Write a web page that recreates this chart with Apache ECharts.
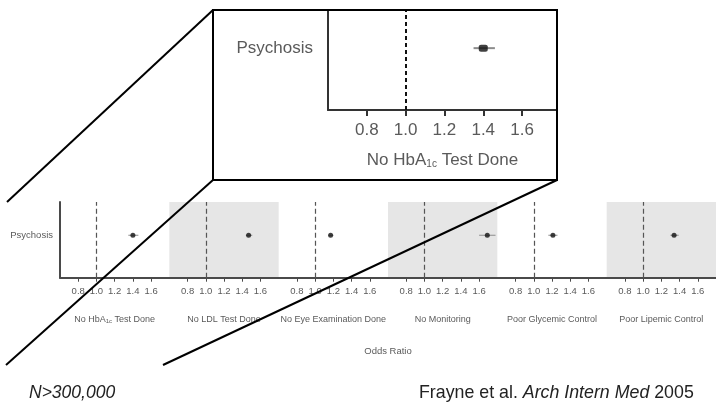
<!DOCTYPE html>
<html>
<head>
<meta charset="UTF-8">
<title>Psychosis odds ratios</title>
<script src="https://cdn.jsdelivr.net/npm/echarts@6/dist/echarts.min.js"></script>
<style type="text/css">
  * {margin: 0; padding: 0;}
  body {background: #fff;}
</style>
</head>
<body>
<div id="chart" style="width:716px;height:402px"></div>
<script type="text/javascript">
// data
var rowName = 'Psychosis';
var panels = ['No HbA1c Test Done', 'No LDL Test Done', 'No Eye Examination Done',
              'No Monitoring', 'Poor Glycemic Control', 'Poor Lipemic Control'];
var oddsRatio = [1.40, 1.47, 1.17, 1.69, 1.21, 1.34];
var ciLow     = [1.35, 1.44, 1.15, 1.60, 1.16, 1.30];
var ciHigh    = [1.46, 1.51, 1.20, 1.78, 1.26, 1.39];
var tickValues = [0.8, 1.0, 1.2, 1.4, 1.6];
var refLine = 1.0;
var rowY = 0.6;

var sans = "'Liberation Sans', Arial, sans-serif";
var textGray = '#5a5a5a';

var chart = echarts.init(document.getElementById('chart'));

var grids = [], xAxes = [], yAxes = [], series = [];

function addPanel(idx, big) {
  var gi = grids.length;
  var axisColor = big ? '#333' : '#4a4a4a';
  if (big) {
    grids.push({left: 328, top: 10, width: 229, height: 100});
  } else {
    var w = 656 / 6;
    grids.push({left: 60 + idx * w, top: 202, width: w, height: 75.7,
      show: idx % 2 == 1, backgroundColor: '#e6e6e6', borderWidth: 0});
  }
  var nameSize = big ? 17 : 9;
  var name = panels[idx], rich = {};
  if (idx == 0) {
    name = '{a|No HbA}{s|1c}{a| Test Done}';
    rich = {
      a: {fontSize: nameSize, color: textGray, fontFamily: sans},
      s: {fontSize: big ? 10 : 6, color: textGray, fontFamily: sans, padding: [big ? 8 : 4, 0, 0, 0]}
    };
  }
  xAxes.push({
    type: 'value', gridIndex: gi,
    min: 0.6, max: big ? 1.78 : 1.8,
    splitLine: {show: false},
    axisLine: {show: true, onZero: false, lineStyle: {color: axisColor, width: 2}},
    axisTick: {show: true, length: big ? 6 : 4, customValues: tickValues,
      lineStyle: {color: axisColor, width: big ? 2 : 1}},
    axisLabel: {customValues: tickValues, margin: big ? 12 : 9, fontSize: big ? 17 : 9.5,
      color: textGray, fontFamily: sans,
      formatter: function (v) { return v.toFixed(1); }},
    name: name,
    nameLocation: 'middle',
    nameGap: big ? 41 : 37,
    nameTextStyle: {fontSize: nameSize, color: textGray, fontFamily: sans, rich: rich}
  });
  var showY = big || idx == 0;
  yAxes.push({
    type: 'value', gridIndex: gi, min: 0, max: big ? 0.97 : 1.07,
    splitLine: {show: false},
    axisLine: {show: showY, lineStyle: {color: axisColor, width: 2}},
    axisTick: {show: false},
    axisLabel: {show: showY, customValues: [rowY], margin: big ? 15 : 7,
      fontSize: big ? 17 : 9.5, color: textGray, fontFamily: sans,
      formatter: function () { return rowName; }}
  });
  // confidence interval
  series.push({
    type: 'line', xAxisIndex: gi, yAxisIndex: gi, symbol: 'none', silent: true,
    lineStyle: {color: '#8c8c8c', width: big ? 2 : 1.2},
    data: [[ciLow[idx], rowY], [ciHigh[idx], rowY]],
    markLine: {
      silent: true, symbol: 'none', label: {show: false},
      lineStyle: {color: big ? '#111' : '#555', type: big ? [4, 3] : [5, 3], width: big ? 2 : 1.2},
      data: [{xAxis: refLine}]
    }
  });
  // point estimate
  series.push({
    type: 'scatter', xAxisIndex: gi, yAxisIndex: gi, silent: true,
    symbol: big ? 'roundRect' : 'circle', symbolSize: big ? [9, 7] : 5,
    itemStyle: {color: '#111'},
    data: [[oddsRatio[idx], rowY]], z: 5
  });
}

addPanel(0, true);
for (var i = 0; i < panels.length; i++) addPanel(i, false);

var option = {
  animation: false,
  grid: grids,
  xAxis: xAxes,
  yAxis: yAxes,
  series: series,
  graphic: [
    {type: 'rect', z: 100, shape: {x: 213, y: 10, width: 344, height: 170},
      style: {fill: 'none', stroke: '#000', lineWidth: 2}},
    {type: 'line', z: 100, shape: {x1: 213, y1: 10, x2: 7, y2: 202}, style: {stroke: '#000', lineWidth: 2}},
    {type: 'line', z: 100, shape: {x1: 213, y1: 180, x2: 6, y2: 365}, style: {stroke: '#000', lineWidth: 2}},
    {type: 'line', z: 100, shape: {x1: 557, y1: 180, x2: 163, y2: 365}, style: {stroke: '#000', lineWidth: 2}},
    {type: 'text', z: 100, x: 388, y: 351,
      style: {text: 'Odds Ratio', fontSize: 9.5, fill: textGray, fontFamily: sans, align: 'center', verticalAlign: 'middle'}},
    {type: 'text', z: 100, x: 29, y: 393,
      style: {text: 'N>300,000', fontSize: 17.5, fontStyle: 'italic', fill: '#222', fontFamily: sans, verticalAlign: 'middle'}},
    {type: 'text', z: 100, x: 419, y: 393,
      style: {text: '{r|Frayne et al. }{i|Arch Intern Med}{r| 2005}', verticalAlign: 'middle',
        rich: {
          r: {fontSize: 17.8, fill: '#222', fontFamily: sans},
          i: {fontSize: 17.8, fill: '#222', fontFamily: sans, fontStyle: 'italic'}
        }}}
  ]
};

chart.setOption(option);
</script>
</body>
</html>
